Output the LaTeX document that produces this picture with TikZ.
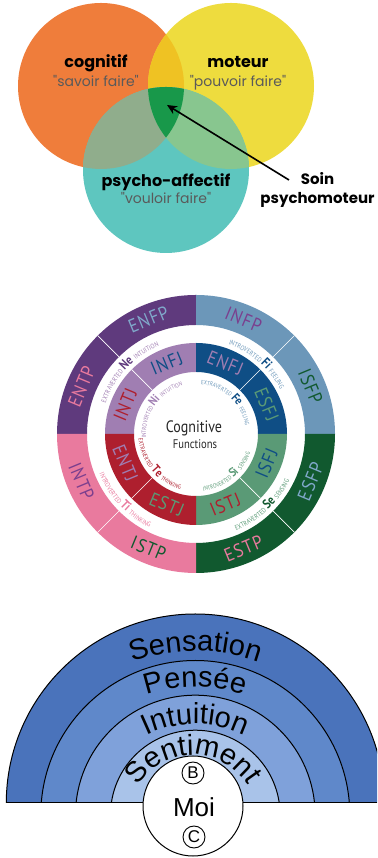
\documentclass[tikz,border=0pt]{standalone}
\usepackage{fontspec}
\setmainfont{Liberation Sans}
\newfontfamily\vennfont{Poppins}
\newfontfamily\wfont[FakeStretch=0.85]{PT Sans}
\newfontfamily\wlabfont[FakeStretch=0.88,LetterSpace=6]{PT Sans}
\usetikzlibrary{decorations.text,arrows.meta}
% Venn colours
\definecolor{vOr}{HTML}{EF7D3B}
\definecolor{vYe}{HTML}{EEDC3E}
\definecolor{vTe}{HTML}{5EC6BF}
\definecolor{vOY}{HTML}{EFC223}
\definecolor{vOT}{HTML}{90AD8C}
\definecolor{vYT}{HTML}{88C68F}
\definecolor{vAll}{HTML}{18984A}
\definecolor{vGrey}{HTML}{5A5A5A}
% wheel colours
\definecolor{wPur}{HTML}{5F3A7D}
\definecolor{wSteel}{HTML}{6C97B9}
\definecolor{wDGreen}{HTML}{11592F}
\definecolor{wPink}{HTML}{E97A9E}
\definecolor{wLPur}{HTML}{A07EB2}
\definecolor{wDBlue}{HTML}{0F4E85}
\definecolor{wMGreen}{HTML}{5A9A76}
\definecolor{wRed}{HTML}{AE1F2E}
\definecolor{wLBlue}{HTML}{80A8CA}
\definecolor{wTPur}{HTML}{7B3F8E}
% rainbow colours
\definecolor{rbA}{HTML}{4A73BB}
\definecolor{rbB}{HTML}{5F88CA}
\definecolor{rbC}{HTML}{7FA1DA}
\definecolor{rbD}{HTML}{A9C3E9}
\newcommand\wsector[5]{\fill[#1] (#2:#5) arc[start angle=#2,end angle=#3,radius=#5] -- (#3:#4) arc[start angle=#3,end angle=#2,radius=#4] -- cycle;}
\newcommand\wsm{\wfont\fontsize{6.8}{6.8}\selectfont}
\newcommand\wsi{\wfont\fontsize{6}{6}\selectfont}
\newcommand\wbg{\wfont\bfseries\fontsize{13}{13}\selectfont}
\newcommand\wbi{\wfont\bfseries\fontsize{12}{12}\selectfont}
\newcommand\rbf{\fontsize{29}{29}\selectfont}
\tikzset{
  vtitle/.style={font=\vennfont\bfseries\fontsize{16}{16}\selectfont, text=black, anchor=base, inner sep=0pt},
  vsoin/.style={font=\vennfont\bfseries\fontsize{15}{15}\selectfont, text=black, anchor=base, inner sep=0pt},
  vsub/.style={font=\vennfont\fontsize{14}{14}\selectfont, text=vGrey, anchor=base, inner sep=0pt},
  varrow/.style={line width=1.6pt, -{Stealth[length=10pt,width=9pt]}},
  wlab/.style={font=\wlabfont\fontsize{19}{19}\selectfont, inner sep=0pt},
  wline/.style={white, line width=0.7pt},
  rbline/.style={draw=black, line width=1pt},
  circlet/.style={circle, draw=black, line width=0.9pt, inner sep=1.2pt, minimum size=22pt, font=\fontsize{17}{17}\selectfont}
}
\begin{document}
\begin{tikzpicture}[x=1pt,y=1pt]
\useasboundingbox (0,0) rectangle (377,858);
% ---------------- Venn ----------------
\coordinate (cO) at (101,772);
\coordinate (cY) at (231,772);
\coordinate (cT) at (166,688);
\fill[vOr] (cO) circle (83);
\fill[vYe] (cY) circle (83);
\fill[vTe] (cT) circle (83);
\begin{scope}
  \clip (cO) circle (83);
  \fill[vOY] (cY) circle (83);
  \fill[vOT] (cT) circle (83);
\end{scope}
\begin{scope}
  \clip (cY) circle (83);
  \fill[vYT] (cT) circle (83);
  \clip (cO) circle (83);
  \fill[vAll] (cT) circle (83);
\end{scope}
\node[vtitle] (cog) at (96,790) {cognitif};
\node[vsub] (cogs) at (96,771) {"savoir faire"};
\node[vtitle] (mot) at (238,790) {moteur};
\node[vsub] (mots) at (238,771) {"pouvoir faire"};
\node[vtitle] (psy) at (166,671) {psycho-affectif};
\node[vsub] (psys) at (166,654) {"vouloir faire"};
\node[vsoin] (soin) at (317.5,673) {Soin};
\node[vsoin] (psym) at (317.5,654) {psychomoteur};
\coordinate (arrS) at (289,678);
\coordinate (arrE) at (167,753);
\draw[varrow] (arrS) -- (arrE);
% ---------------- Wheel ----------------
\begin{scope}[shift={(196,424)}]
\wsector{wPur}{90}{180}{109}{139}
\wsector{wSteel}{0}{90}{109}{139}
\wsector{wDGreen}{-90}{0}{109}{139}
\wsector{wPink}{180}{270}{109}{139}
\wsector{wLPur}{90}{180}{62}{91}
\wsector{wDBlue}{0}{90}{62}{91}
\wsector{wMGreen}{-90}{0}{62}{91}
\wsector{wRed}{180}{270}{62}{91}
\foreach \a in {45,135,225,315}{
  \draw[wline] (\a:109) -- (\a:139);
  \draw[wline] (\a:62) -- (\a:91);
}
\node[wlab, text=wLBlue, rotate=22.5] (enfp) at (112.5:124) {ENFP};
\node[wlab, text=wPink, rotate=67.5] (entp) at (157.5:124) {ENTP};
\node[wlab, text=wTPur, rotate=-22.5] (infp) at (67.5:124) {INFP};
\node[wlab, text=wDGreen, rotate=-67.5] (isfp) at (22.5:124) {ISFP};
\node[wlab, text=wLBlue, rotate=67.5] (esfp) at (-22.5:124) {ESFP};
\node[wlab, text=wPink, rotate=22.5] (estp) at (-67.5:124) {ESTP};
\node[wlab, text=wDGreen, rotate=-22.5] (istp) at (247.5:124) {ISTP};
\node[wlab, text=wTPur, rotate=-67.5] (intp) at (202.5:124) {INTP};
\node[wlab, text=wDBlue, rotate=22.5] (infj) at (112.5:76.5) {INFJ};
\node[wlab, text=wRed, rotate=67.5] (intj) at (157.5:76.5) {INTJ};
\node[wlab, text=wLPur, rotate=-22.5] (enfj) at (67.5:76.5) {ENFJ};
\node[wlab, text=wMGreen, rotate=-67.5] (esfj) at (22.5:76.5) {ESFJ};
\node[wlab, text=wDBlue, rotate=67.5] (isfj) at (-22.5:76.5) {ISFJ};
\node[wlab, text=wRed, rotate=22.5] (istj) at (-67.5:76.5) {ISTJ};
\node[wlab, text=wMGreen, rotate=-22.5] (estj) at (247.5:76.5) {ESTJ};
\node[wlab, text=wLPur, rotate=-67.5] (entj) at (202.5:76.5) {ENTJ};
% gap texts
\path[decorate,decoration={text along path,text align=center,
  text={|\wsm\color{wLPur}|EXTRAVERTED |\wbg\color{wPur}|Ne |\wsm\color{wLPur}|INTUITION}}]
  (177:95.5) arc[start angle=177,end angle=97,radius=95.5];
\path[decorate,decoration={text along path,text align=center,
  text={|\wsm\color{wSteel}|INTROVERTED |\wbg\color{wDBlue}|Fi |\wsm\color{wSteel}|FEELING}}]
  (89:95.5) arc[start angle=89,end angle=9,radius=95.5];
\path[decorate,decoration={text along path,text align=center,
  text={|\wsm\color{wMGreen}|EXTRAVERTED |\wbg\color{wDGreen}|Se |\wsm\color{wMGreen}|SENSING}}]
  (-87:104.5) arc[start angle=-87,end angle=-7,radius=104.5];
\path[decorate,decoration={text along path,text align=center,
  text={|\wsm\color{wPink}|INTROVERTED |\wbg\color{wPink}|Ti |\wsm\color{wPink}|THINKING}}]
  (183:104.5) arc[start angle=183,end angle=263,radius=104.5];
% inner texts
\path[decorate,decoration={text along path,text align=center,
  text={|\wsi\color{wLPur}|INTROVERTED |\wbi\color{wLPur}|Ni |\wsi\color{wLPur}|INTUITION}}]
  (209:50) arc[start angle=209,end angle=81,radius=50];
\path[decorate,decoration={text along path,text align=center,
  text={|\wsi\color{wSteel}|EXTRAVERTED |\wbi\color{wDBlue}|Fe |\wsi\color{wSteel}|FEELING}}]
  (111:50) arc[start angle=111,end angle=-17,radius=50];
\path[decorate,decoration={text along path,text align=center,
  text={|\wsi\color{wMGreen}|INTROVERTED |\wbi\color{wMGreen}|Si |\wsi\color{wMGreen}|SENSING}}]
  (-114:57.5) arc[start angle=-114,end angle=12,radius=57.5];
\path[decorate,decoration={text along path,text align=center,
  text={|\wsi\color{wRed}|EXTRAVERTED |\wbi\color{wRed}|Te |\wsi\color{wRed}|THINKING}}]
  (156:57.5) arc[start angle=156,end angle=283,radius=57.5];
\node[font=\wfont\fontsize{16.5}{16.5}\selectfont, text=black!85] (cogn) at (-2,6) {Cognitive};
\node[font=\wfont\fontsize{12.5}{12.5}\selectfont, text=black!85] (func) at (-1,-10) {Functions};
\end{scope}
% ---------------- Rainbow ----------------
\begin{scope}
  \clip (0,55) rectangle (377,300);
  \filldraw[rbline, fill=rbA] (195.3,55) circle (189);
  \filldraw[rbline, fill=rbB] (195.3,43) circle (154.5);
  \filldraw[rbline, fill=rbC] (195.3,43) circle (119.8);
  \filldraw[rbline, fill=rbD] (195.3,43) circle (84.8);
\end{scope}
\coordinate (baseL) at (6,55);
\coordinate (baseR) at (377,55);
\draw[rbline] (baseL) -- (baseR);
\path[decorate,decoration={text along path,text align=center,text={|\rbf|Sensation}}]
  (195.3,22) ++(180:185) arc[start angle=180,end angle=0,radius=185];
\path[decorate,decoration={text along path,text align=center,text={|\rbf|Pensée}}]
  (195.3,22) ++(180:149) arc[start angle=180,end angle=0,radius=149];
\path[decorate,decoration={text along path,text align=center,text={|\rbf|Intuition}}]
  (195.3,22) ++(180:112) arc[start angle=180,end angle=0,radius=112];
\path[decorate,decoration={text along path,text align=center,text={|\rbf|Sentiment}}]
  (193,39) ++(180:64) arc[start angle=180,end angle=0,radius=64];
\node[circle, draw=black, line width=1pt, fill=white, minimum size=100pt, inner sep=0pt] (moi) at (193,52) {};
\node[circlet] (bB) at (193,85) {B};
\node[font=\fontsize{26}{26}\selectfont, inner sep=0pt] (moit) at (194,51) {Moi};
\node[circlet] (bC) at (194,21) {C};
\end{tikzpicture}
\end{document}
